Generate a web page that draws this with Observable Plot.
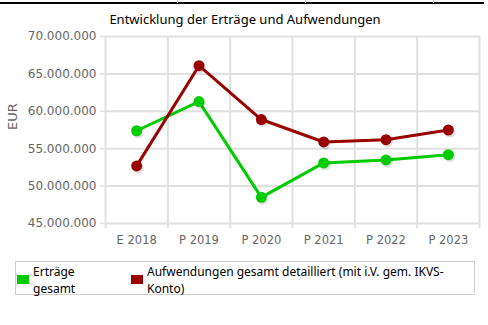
<!DOCTYPE html>
<html>
<head>
<meta charset="utf-8">
<script src="https://cdn.jsdelivr.net/npm/d3@7"></script>
<script src="https://cdn.jsdelivr.net/npm/@observablehq/plot@0.6"></script>
<style>
  html, body { margin: 0; padding: 0; background: #fff; }
  #wrap { position: relative; width: 488px; height: 325px; overflow: hidden; font-family: "Noto Sans", sans-serif; }
  #topline { position: absolute; left: 0; top: 2px; width: 484px; height: 2px; background: #000; }
  .vsep { position: absolute; top: 0; width: 1px; height: 3px; background: #ccc; }
  #title { position: absolute; left: 0; width: 490px; top: 10px; text-align: center; font-size: 13px; color: #000; }
  #chart { position: absolute; left: 0; top: 0; }
  #legend { position: absolute; left: 15px; top: 261px; width: 460px; height: 34px; border: 1px solid #cfcfcf; box-sizing: border-box; font-size: 12px; color: #000; }
  .item { position: absolute; top: 1px; line-height: 17px; }
  .sw { position: absolute; width: 12px; height: 9px; top: 13px; }
</style>
</head>
<body>
<div id="wrap">
  <div id="topline"></div>
  <div class="vsep" style="left:177px"></div>
  <div class="vsep" style="left:305px"></div>
  <div class="vsep" style="left:433px"></div>
  <div id="chart"></div>
  <div id="title"></div>
  <div id="legend"></div>
</div>
<script>
const categories = ["E 2018", "P 2019", "P 2020", "P 2021", "P 2022", "P 2023"];
const ertraege = [57.4e6, 61.3e6, 48.5e6, 53.1e6, 53.5e6, 54.2e6];
const aufwendungen = [52.7e6, 66.1e6, 58.9e6, 55.9e6, 56.2e6, 57.5e6];
const yTicks = [45e6, 50e6, 55e6, 60e6, 65e6, 70e6];
const seriesNames = ["Erträge gesamt", "Aufwendungen gesamt detailliert (mit i.V. gem. IKVS-Konto)"];
const seriesColors = ["#00cc00", "#990000"];
const titleText = "Entwicklung der Erträge und Aufwendungen";
const yLabel = "EUR";

const de = d3.formatLocale({decimal: ",", thousands: ".", grouping: [3], currency: ["", " €"]});
const fmt = de.format(",");

const seriesValues = [ertraege, aufwendungen];
const data = seriesValues.map((vals, s) => vals.map((v, i) => ({i: i + 0.5, v, s})));

const grid = "#e0e0e0";
const marks = [
  Plot.gridY({ticks: yTicks, stroke: grid, strokeOpacity: 1, strokeWidth: 2}),
  Plot.gridX({ticks: d3.range(categories.length + 1), stroke: grid, strokeOpacity: 1, strokeWidth: 2}),
  Plot.axisY({ticks: yTicks, tickFormat: fmt, tickSize: 5, tickPadding: 4, stroke: grid, strokeWidth: 1.5, fill: "#666", fontSize: 12, label: null}),
  Plot.text([yLabel], {frameAnchor: "left", dx: -93, rotate: -90, fontSize: 13, fill: "#666"}),
  Plot.axisX({ticks: d3.range(categories.length + 1), tickSize: 5, stroke: grid, strokeWidth: 2, text: null, label: null}),
  Plot.axisX({ticks: categories.map((c, i) => i + 0.5), tickFormat: d => categories[Math.floor(d)], tickSize: 0, tickPadding: 12,
              fill: "#666", fontSize: 11.5, label: null})
];
data.forEach((d, s) => {
  marks.push(Plot.line(d, {x: "i", y: "v", stroke: seriesColors[s], strokeWidth: 3}));
});
data.forEach((d, s) => {
  marks.push(Plot.dot(d, {x: "i", y: "v", r: 5.5, fill: "#000", fillOpacity: 0.12, dx: 1.5, dy: 2}));
  marks.push(Plot.dot(d, {x: "i", y: "v", r: 5.5, fill: seriesColors[s]}));
});

const chart = Plot.plot({
  width: 488,
  height: 250,
  marginLeft: 105,
  marginRight: 9,
  marginTop: 36,
  marginBottom: 27,
  x: {type: "linear", domain: [0, categories.length], axis: null},
  y: {domain: [45e6, 70e6], axis: null},
  style: {fontFamily: "DejaVu Sans, sans-serif", background: "transparent"},
  marks
});
document.getElementById("chart").appendChild(chart);
document.getElementById("title").textContent = titleText;

const legend = document.getElementById("legend");
const itemPos = [{sw: 1, tx: 17, w: 70}, {sw: 115, tx: 131, w: 300}];
seriesNames.forEach((name, s) => {
  const sw = document.createElement("div");
  sw.className = "sw";
  sw.style.left = itemPos[s].sw + "px";
  sw.style.background = seriesColors[s];
  legend.appendChild(sw);
  const it = document.createElement("div");
  it.className = "item";
  it.style.left = itemPos[s].tx + "px";
  it.style.width = itemPos[s].w + "px";
  it.textContent = name;
  legend.appendChild(it);
});
</script>
</body>
</html>
